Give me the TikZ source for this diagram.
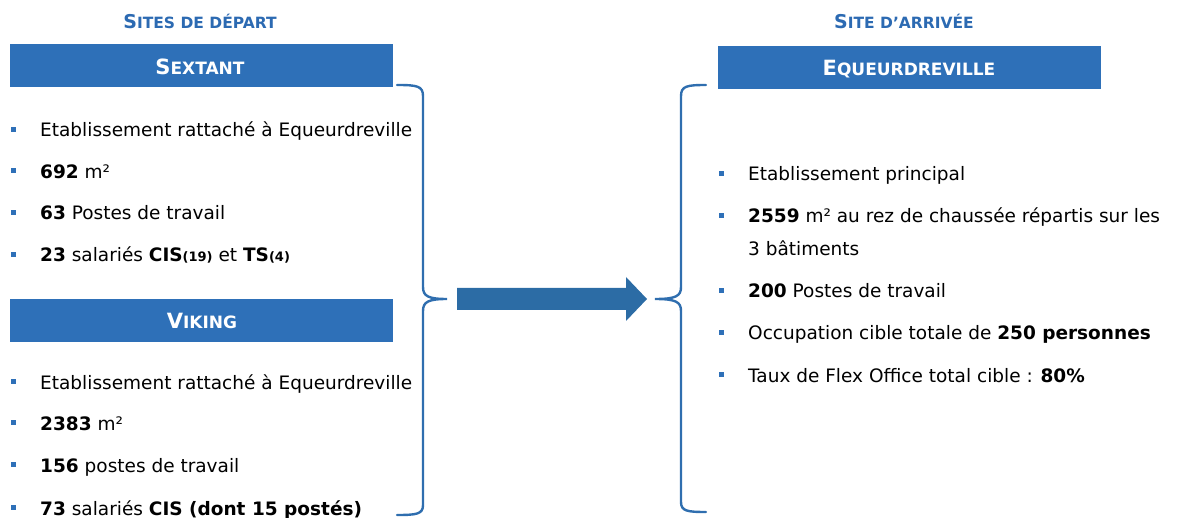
\documentclass[tikz,border=0pt]{standalone}
\usepackage{fontspec}
\setmainfont{DejaVu Sans}
\definecolor{boxblue}{RGB}{46,112,184}
\definecolor{hdrblue}{RGB}{44,106,178}
\definecolor{arrowblue}{RGB}{44,108,165}
\definecolor{braceblue}{RGB}{47,110,175}
\newcommand\hsc[2]{{\fontsize{19}{19}\selectfont #1}{\fontsize{15.5}{15.5}\selectfont #2}}
\newcommand\bsc[2]{{\fontsize{21}{21}\selectfont #1}{\fontsize{17}{17}\selectfont #2}}
\newcommand\smb[1]{{\fontsize{13}{13}\selectfont #1}}
\tikzset{
  box/.style={draw=none, fill=boxblue, minimum width=383pt, minimum height=43pt, inner sep=0pt},
  title/.style={text=white, font=\bfseries, inner sep=0pt, anchor=base},
  header/.style={text=hdrblue, font=\bfseries, inner sep=0pt, anchor=base},
  txt/.style={font=\fontsize{18.5}{22}\selectfont, inner sep=0pt, anchor=base west, text=black},
  bul/.style={fill=boxblue, draw=none, minimum size=5pt, inner sep=0pt},
  brace/.style={draw=braceblue, line width=2.4pt, line cap=round},
}
\begin{document}
\begin{tikzpicture}[x=1pt,y=-1pt]
\useasboundingbox (0,0) rectangle (1180,518);
% headers
\node[header] (hleft) at (200,29) {\hsc{S}{ITES DE DÉPART}};
\node[header] (hright) at (904,29) {\hsc{S}{ITE D’ARRIVÉE}};
% boxes
\node[box] (sextant) at (201.5,65.5) {};
\node[title] (sextantT) at (200,75) {\bsc{S}{EXTANT}};
\node[box] (viking) at (201.5,320.5) {};
\node[title] (vikingT) at (202,329) {\bsc{V}{IKING}};
\node[box] (equeur) at (909.5,67.5) {};
\node[title] (equeurT) at (909,76) {\bsc{E}{QUEURDREVILLE}};
% left bullets SEXTANT
\foreach \y/\n in {137/s1,178.5/s2,220/s3,262/s4}{\node[bul] (b\n) at (13.5,\y-7.5) {};}
\node[txt] (s1) at (40,137) {Etablissement rattaché à Equeurdreville};
\node[txt] (s2) at (40,178.5) {\textbf{692} m²};
\node[txt] (s3) at (40,220) {\textbf{63} Postes de travail};
\node[txt] (s4) at (40,262) {\textbf{23} salariés \textbf{CIS\smb{(19)}} et \textbf{TS\smb{(4)}}};
% left bullets VIKING
\foreach \y/\n in {389/v1,430/v2,472/v3,515/v4}{\node[bul] (b\n) at (13.5,\y-7.5) {};}
\node[txt] (v1) at (40,389) {Etablissement rattaché à Equeurdreville};
\node[txt] (v2) at (40,430) {\textbf{2383} m²};
\node[txt] (v3) at (40,472) {\textbf{156} postes de travail};
\node[txt] (v4) at (40,515) {\textbf{73} salariés \textbf{CIS (dont 15 postés)}};
% right bullets
\foreach \y/\n in {181/r1,223/r2,298/r3,340/r4,382/r5}{\node[bul] (b\n) at (721,\y-7.5) {};}
\node[txt] (r1) at (748,181) {Etablissement principal};
\node[txt] (r2) at (748,223) {\textbf{2559} m² au rez de chaussée répartis sur les};
\node[txt] (r2b) at (748,256) {3 bâtiments};
\node[txt] (r3) at (748,298) {\textbf{200} Postes de travail};
\node[txt] (r4) at (748,340) {Occupation cible totale de \textbf{250 personnes}};
\node[txt] (r5) at (748,382) {Taux de Flex Office total cible : \textbf{80\%}};
% braces
\draw[brace] (397,85) .. controls (417,85) and (423,86) .. (423,96) -- (423,287)
  .. controls (423,296) and (428,299) .. (447,299)
  .. controls (428,299) and (423,302) .. (423,311) -- (423,505)
  .. controls (423,514) and (417,515) .. (397,515);
\draw[brace] (706,85) .. controls (687,85) and (681,86) .. (681,96) -- (681,287)
  .. controls (681,296) and (676,299) .. (655,299)
  .. controls (676,299) and (681,302) .. (681,311) -- (681,502)
  .. controls (681,511) and (687,512) .. (706,512);
% arrow
\fill[arrowblue] (457,288) -- (626,288) -- (626,277) -- (647,299) -- (626,321) -- (626,310) -- (457,310) -- cycle;
\end{tikzpicture}
\end{document}
